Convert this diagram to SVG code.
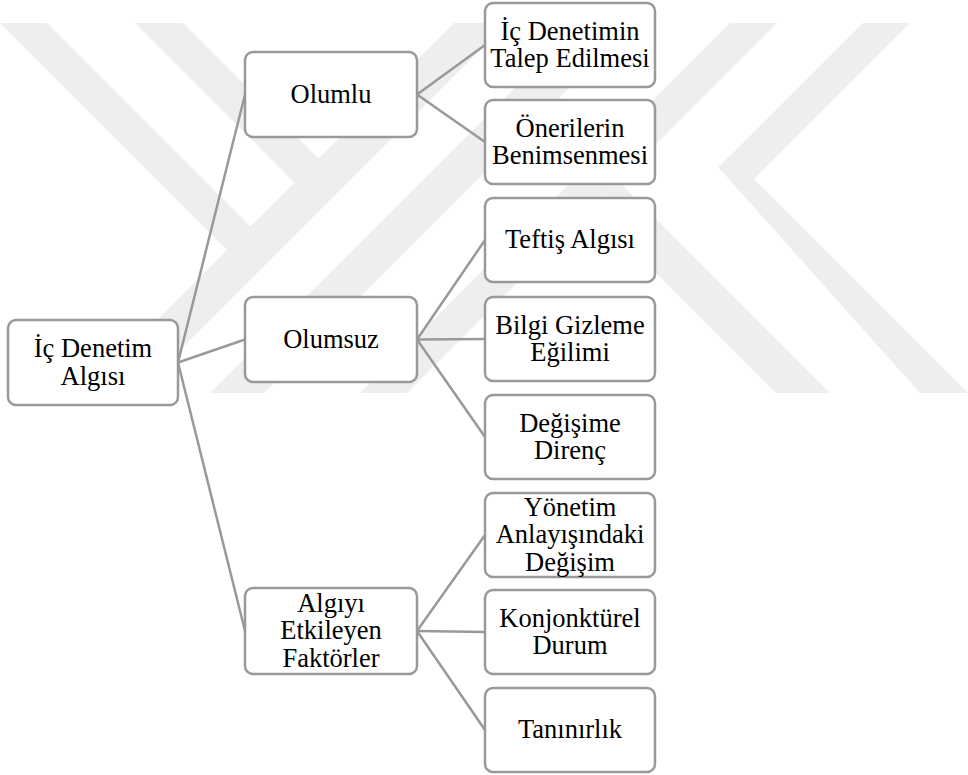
<svg xmlns="http://www.w3.org/2000/svg" width="968" height="775" viewBox="0 0 968 775">
<style>
.wm{fill:#eeeeee}
.box{fill:#fff;stroke:#999;stroke-width:2.5}
.lk{stroke:#999;stroke-width:2.5;fill:none}
.t{font-family:'Liberation Serif','Times New Roman',Times,'Nimbus Roman',FreeSerif,'Noto Serif','DejaVu Serif',serif;font-size:26.5px;fill:#000;text-anchor:middle}
</style>
<rect width="968" height="775" fill="#fff"/>
<g id="watermark">
<polygon class="wm" points="0,23 47,23 250.5,226.5 227,250 0,23"/>
<polygon class="wm" points="135,23 183,23 318.5,158.5 294.5,182.5"/>
<polygon class="wm" points="454,23 507,23 137,393 84,393"/>
<polygon class="wm" points="580,23 634,23 264,393 210,393"/>
<polygon class="wm" points="730,23 777,23 407,393 360,393"/>
<polygon class="wm" points="863,23 910,23 742,191 730.5,179.5 718.5,167.5"/>
<polygon class="wm" points="718.5,167.5 730.5,155.5 968,393 920,393"/>
<polygon class="wm" points="591.5,208.5 618.5,181.5 830,393 776,393"/>
</g>
<g id="connectors">
<line class="lk" x1="178" y1="362.5" x2="245" y2="94.5"/>
<line class="lk" x1="178" y1="362.5" x2="245" y2="339.5"/>
<line class="lk" x1="178" y1="362.5" x2="245" y2="631"/>
<line class="lk" x1="417" y1="94.5" x2="485" y2="45"/>
<line class="lk" x1="417" y1="94.5" x2="485" y2="142"/>
<line class="lk" x1="417" y1="339.5" x2="485" y2="240"/>
<line class="lk" x1="417" y1="339.5" x2="485" y2="339"/>
<line class="lk" x1="417" y1="339.5" x2="485" y2="437"/>
<line class="lk" x1="417" y1="631" x2="485" y2="535"/>
<line class="lk" x1="417" y1="631" x2="485" y2="632"/>
<line class="lk" x1="417" y1="631" x2="485" y2="730"/>
</g>
<g id="root">
<rect class="box" x="8" y="320" width="170" height="85" rx="8"/>
<text class="t" x="93" y="357">İç Denetim</text>
<text class="t" x="93" y="384.5">Algısı</text>
</g>
<g id="olumlu">
<rect class="box" x="245" y="52" width="172" height="85" rx="8"/>
<text class="t" x="331" y="102.5">Olumlu</text>
</g>
<g id="olumsuz">
<rect class="box" x="245" y="297" width="172" height="85" rx="8"/>
<text class="t" x="331" y="347.5">Olumsuz</text>
</g>
<g id="algiyi">
<rect class="box" x="245" y="588" width="172" height="86" rx="8"/>
<text class="t" x="331" y="611.5">Algıyı</text>
<text class="t" x="331" y="639">Etkileyen</text>
<text class="t" x="331" y="666.5">Faktörler</text>
</g>
<g id="talep">
<rect class="box" x="485" y="3" width="170" height="84" rx="8"/>
<text class="t" x="570" y="39.5">İç Denetimin</text>
<text class="t" x="570" y="67">Talep Edilmesi</text>
</g>
<g id="oneriler">
<rect class="box" x="485" y="100" width="170" height="84" rx="8"/>
<text class="t" x="570" y="136.5">Önerilerin</text>
<text class="t" x="570" y="164">Benimsenmesi</text>
</g>
<g id="teftis">
<rect class="box" x="485" y="198" width="170" height="84" rx="8"/>
<text class="t" x="570" y="248">Teftiş Algısı</text>
</g>
<g id="bilgi">
<rect class="box" x="485" y="297" width="170" height="84" rx="8"/>
<text class="t" x="570" y="333.5">Bilgi Gizleme</text>
<text class="t" x="570" y="361">Eğilimi</text>
</g>
<g id="degisime">
<rect class="box" x="485" y="395" width="170" height="84" rx="8"/>
<text class="t" x="570" y="431.5">Değişime</text>
<text class="t" x="570" y="459">Direnç</text>
</g>
<g id="yonetim">
<rect class="box" x="485" y="493" width="170" height="84" rx="8"/>
<text class="t" x="570" y="515.5">Yönetim</text>
<text class="t" x="570" y="543">Anlayışındaki</text>
<text class="t" x="570" y="570.5">Değişim</text>
</g>
<g id="konjonkturel">
<rect class="box" x="485" y="590" width="170" height="84" rx="8"/>
<text class="t" x="570" y="626.5">Konjonktürel</text>
<text class="t" x="570" y="654">Durum</text>
</g>
<g id="taninirlik">
<rect class="box" x="485" y="688" width="170" height="84" rx="8"/>
<text class="t" x="570" y="738">Tanınırlık</text>
</g>
</svg>
